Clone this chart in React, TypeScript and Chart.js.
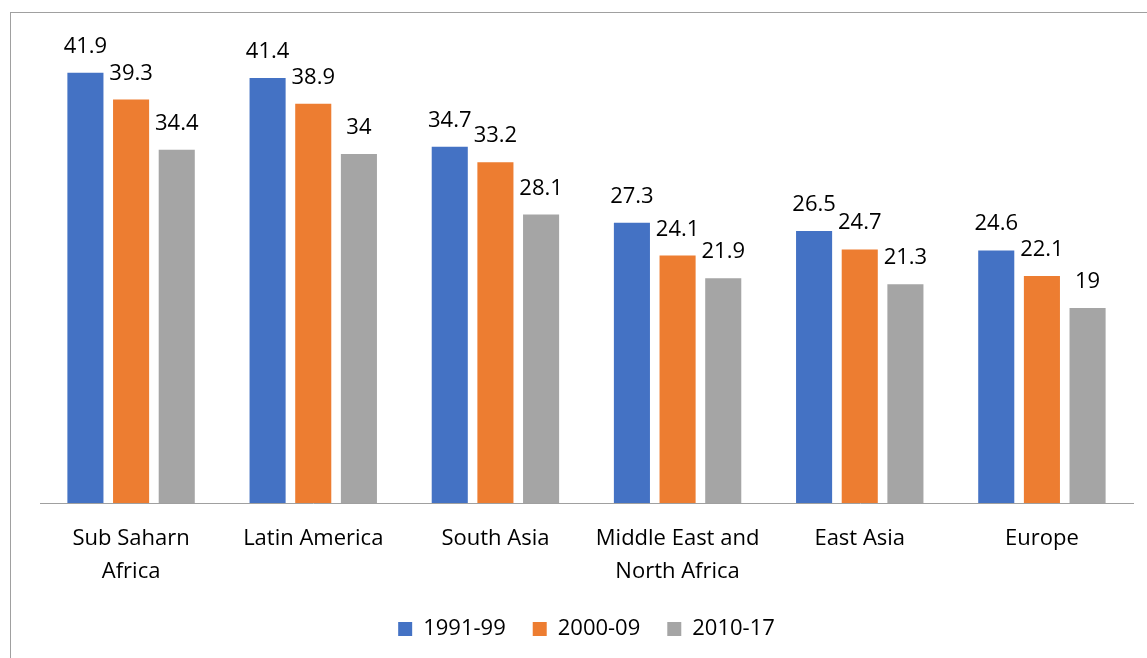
import React, { useEffect, useRef } from "react";
import { Chart, registerables } from "chart.js";

Chart.register(...registerables);

const categories: (string | string[])[] = [
  ["Sub Saharn", "Africa"],
  "Latin America",
  "South Asia",
  ["Middle East and", "North Africa"],
  "East Asia",
  "Europe",
];
const series1991 = [41.9, 41.4, 34.7, 27.3, 26.5, 24.6];
const series2000 = [39.3, 38.9, 33.2, 24.1, 24.7, 22.1];
const series2010 = [34.4, 34, 28.1, 21.9, 21.3, 19];
const seriesNames = ["1991-99", "2000-09", "2010-17"];
const seriesColors = ["#4472C4", "#ED7D31", "#A5A5A5"];

const FONT = "'Open Sans', 'DejaVu Sans', sans-serif";

const framePlugin = {
  id: "frame",
  beforeDraw(chart: any) {
    const ctx = chart.ctx;
    ctx.save();
    ctx.fillStyle = "#ffffff";
    ctx.fillRect(0, 0, chart.width, chart.height);
    ctx.strokeStyle = "#a0a0a0";
    ctx.lineWidth = 1;
    ctx.strokeRect(10.5, 12.5, 3000, 3000);
    ctx.restore();
  },
};

const valueLabelPlugin = {
  id: "valueLabels",
  afterDatasetsDraw(chart: any) {
    const ctx = chart.ctx;
    ctx.save();
    ctx.font = `22px ${FONT}`;
    ctx.fillStyle = "#000000";
    ctx.textAlign = "center";
    ctx.textBaseline = "alphabetic";
    chart.data.datasets.forEach((ds: any, di: number) => {
      const meta = chart.getDatasetMeta(di);
      meta.data.forEach((bar: any, i: number) => {
        ctx.fillText(String(ds.data[i]), bar.x, bar.y - 20);
      });
    });
    ctx.restore();
  },
};

export default function App() {
  const ref = useRef<HTMLCanvasElement | null>(null);
  useEffect(() => {
    if (!ref.current) return;
    const data = [series1991, series2000, series2010];
    const chart = new Chart(ref.current, {
      type: "bar",
      data: {
        labels: categories,
        datasets: seriesNames.map((name, i) => ({
          label: name,
          data: data[i],
          backgroundColor: seriesColors[i],
          borderWidth: 0,
          categoryPercentage: 0.752,
          barPercentage: 0.79,
        })),
      },
      options: {
        responsive: false,
        animation: false,
        layout: { padding: { left: 40, right: 14, top: 41, bottom: 8 } },
        scales: {
          x: {
            grid: { display: false, drawTicks: false },
            border: { display: true, color: "#a0a0a0", width: 1 },
            ticks: {
              padding: 19,
              color: "#000000",
              maxRotation: 0,
              autoSkip: false,
              font: { family: FONT, size: 22, lineHeight: 1.5 },
            },
            afterFit(scale: any) {
              scale.height = scale.height - 16;
            },
          },
          y: {
            display: false,
            min: 0,
            max: 45,
          },
        },
        plugins: {
          legend: {
            position: "bottom",
            labels: {
              boxWidth: 14,
              boxHeight: 14,
              padding: 27,
              color: "#000000",
              font: { family: FONT, size: 22 },
            },
          },
          tooltip: { enabled: false },
        },
      },
      plugins: [framePlugin, valueLabelPlugin],
    });
    return () => chart.destroy();
  }, []);
  return (
    <canvas
      ref={ref}
      width={1147}
      height={658}
      style={{ position: "absolute", left: 0, top: 0, width: 1147, height: 658 }}
    />
  );
}
